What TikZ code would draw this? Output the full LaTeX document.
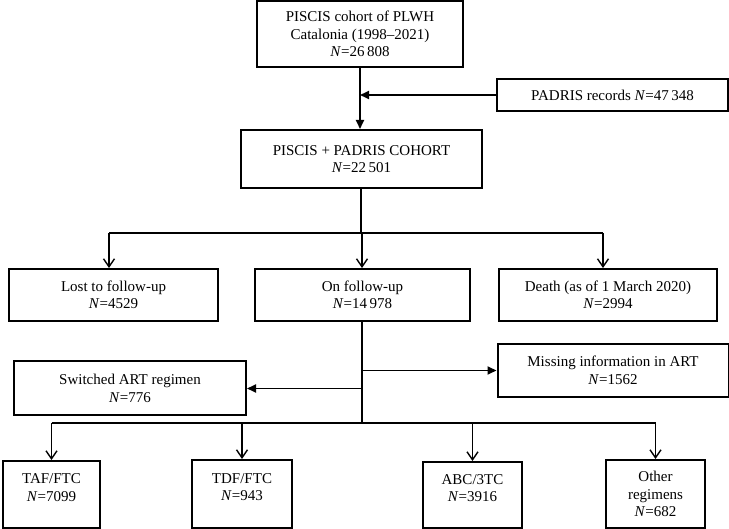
\documentclass[tikz,border=0pt]{standalone}
\usepackage{fontspec}
\setmainfont{Liberation Serif}
\usetikzlibrary{arrows.meta}
\begin{document}
\begin{tikzpicture}[x=1pt,y=-1pt,
  box/.style={draw, line width=2pt, align=center, inner sep=2pt,
    font=\fontsize{15}{17.5}\selectfont},
  conn/.style={line width=1.8pt},
  fill arrow/.style={conn, -{Triangle[length=9pt,width=8pt]}},
  open arrow/.style={conn, -{Straight Barb[length=8pt,width=11pt,line width=1.4pt]}}]
\useasboundingbox (0,0) rectangle (729,529);
\node[box, minimum width=206pt, minimum height=66pt] (piscis) at (360,34)
  {PISCIS cohort of PLWH\\Catalonia (1998--2021)\\\textit{N}=26\,808};
\node[box, minimum width=231pt, minimum height=32pt] (padris) at (612.5,95)
  {PADRIS records \textit{N}=47\,348};
\node[box, minimum width=241pt, minimum height=58pt] (cohort) at (361.5,159)
  {PISCIS + PADRIS COHORT\\\textit{N}=22\,501};
\node[box, minimum width=209pt, minimum height=52pt] (lost) at (113.5,295)
  {Lost to follow-up\\\textit{N}=4529};
\node[box, minimum width=215pt, minimum height=52pt] (on) at (362.5,295)
  {On follow-up\\\textit{N}=14\,978};
\node[box, minimum width=218pt, minimum height=52pt] (death) at (608,295)
  {Death (as of 1 March 2020)\\\textit{N}=2994};
\node[box, minimum width=231pt, minimum height=53pt] (missing) at (613,370.5)
  {Missing information in ART\\\textit{N}=1562};
\node[box, minimum width=232pt, minimum height=54pt] (switched) at (130,388.5)
  {Switched ART regimen\\\textit{N}=776};
\node[box, minimum width=97pt, minimum height=67pt] (taf) at (51.5,494.5)
  {TAF/FTC\\\textit{N}=7099\\[-9pt]\strut};
\node[box, minimum width=100pt, minimum height=68pt] (tdf) at (242,494)
  {TDF/FTC\\\textit{N}=943\\[-9pt]\strut};
\node[box, minimum width=99pt, minimum height=66pt] (abc) at (472.5,495)
  {ABC/3TC\\\textit{N}=3916\\[-9pt]\strut};
\node[box, minimum width=99pt, minimum height=68pt] (other) at (655.5,494)
  {Other\\regimens\\\textit{N}=682};
% top
\draw[fill arrow] (piscis.south) -- (piscis.south |- cohort.north);
\draw[fill arrow] (padris.west) -- (piscis.south |- padris.west);
% first split
\coordinate (s1) at (361,233);
\coordinate (a1) at (109,233);
\coordinate (a2) at (362,233);
\coordinate (a3) at (603,233);
\draw[conn] (cohort.south -| s1) -- (s1);
\draw[conn] (a1) -- (a3);
\draw[open arrow] (a1) -- (a1 |- lost.north);
\draw[open arrow] (a2) -- (a2 |- on.north);
\draw[open arrow] (a3) -- (a3 |- death.north);
% second split
\coordinate (s2) at (362,423);
\draw[conn] (on.south -| s2) -- (s2);
\draw[fill arrow] (s2 |- missing.west) -- (missing.west);
\draw[fill arrow] (s2 |- switched.east) -- (switched.east);
\draw[conn] (s2 -| taf.north) -- (s2 -| other.north);
\draw[open arrow] (s2 -| taf.north) -- (taf.north);
\draw[open arrow] (s2 -| tdf.north) -- (tdf.north);
\draw[open arrow] (s2 -| abc.north) -- (abc.north);
\draw[open arrow] (s2 -| other.north) -- (other.north);
\end{tikzpicture}
\end{document}
